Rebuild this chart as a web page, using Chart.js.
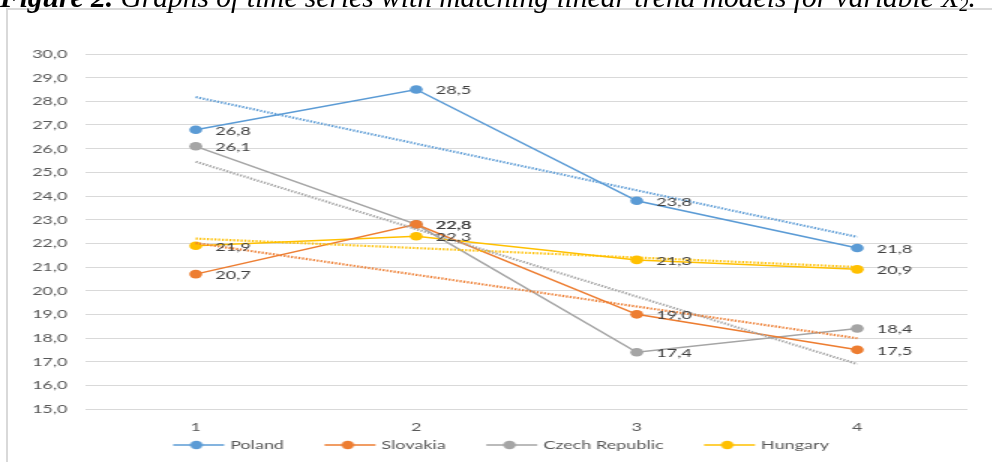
<!DOCTYPE html>
<html>
<head>
<meta charset="utf-8">
<script src="https://cdn.jsdelivr.net/npm/chart.js@4.4.0/dist/chart.umd.min.js"></script>
<style>
  html, body { margin: 0; padding: 0; background: #fff; overflow: hidden; width: 992px; height: 462px; }
  #frame { position: absolute; left: 6px; top: 8px; width: 1100px; height: 600px; border: 2px solid #d9d9d9; }
  #chart { position: absolute; left: 0; top: 0; }
  #title { position: absolute; left: 0; top: -17px; font-family: "Liberation Serif", serif; font-size: 29.5px; line-height: 29.5px;
           font-style: italic; white-space: nowrap; color: #000; }
  #title sub { font-size: 0.62em; vertical-align: -0.2em; line-height: 0; }
</style>
</head>
<body>
<div id="frame"></div>
<canvas id="chart" width="662" height="470" style="width:993px;height:470px"></canvas>
<div id="title"><b>Figure 2.</b> Graphs of time series with matching linear trend models for variable X<sub>2</sub>.</div>
<script>
const periods = ['1', '2', '3', '4'];
const seriesNames = ['Poland', 'Slovakia', 'Czech Republic', 'Hungary'];
const seriesColors = ['#5B9BD5', '#ED7D31', '#A5A5A5', '#FFC000'];

const poland   = [26.8, 28.5, 23.8, 21.8];
const slovakia = [20.7, 22.8, 19.0, 17.5];
const czech    = [26.1, 22.8, 17.4, 18.4];
const hungary  = [21.9, 22.3, 21.3, 20.9];

// dotted linear trend lines
const polandTrend   = [28.18, 26.21, 24.24, 22.27];
const slovakiaTrend = [22.01, 20.67, 19.33, 17.99];
const czechTrend    = [25.45, 22.60, 19.75, 16.90];
const hungaryTrend  = [22.20, 21.80, 21.40, 21.00];

const yTicks = { min: 15, max: 30, step: 1 };

const seriesValues = [poland, slovakia, czech, hungary];
const trendValues = [polandTrend, slovakiaTrend, czechTrend, hungaryTrend];

const fmt = v => v.toFixed(1).replace('.', ',');

// legend icon: short line with a dot in the middle, like Excel
// (a bit wider than the box so the line runs up to the text)
function legendIcon(color) {
  const c = document.createElement('canvas');
  c.width = 61; c.height = 10;
  const g = c.getContext('2d');
  g.strokeStyle = color; g.lineWidth = 1.5;
  g.beginPath(); g.moveTo(26, 5); g.lineTo(60, 5); g.stroke();
  g.fillStyle = color;
  g.beginPath(); g.arc(41.5, 5, 4.2, 0, Math.PI * 2); g.fill();
  return c;
}
const icons = seriesColors.map(legendIcon);

const datasets = [];
seriesValues.forEach((vals, i) => {
  datasets.push({
    label: seriesNames[i],
    data: vals,
    borderColor: seriesColors[i],
    backgroundColor: seriesColors[i],
    borderWidth: 1.5,
    pointRadius: 4.3,
    pointBorderWidth: 0,
    tension: 0,
    order: 2
  });
});
trendValues.forEach((vals, i) => {
  datasets.push({
    label: seriesNames[i] + ' trend',
    data: vals,
    borderColor: seriesColors[i],
    borderWidth: 2.2,
    borderDash: [1.3, 1.2],
    borderCapStyle: 'butt',
    pointRadius: 0,
    tension: 0,
    order: 1
  });
});

const valueLabels = {
  id: 'valueLabels',
  afterDatasetsDraw(chart) {
    const ctx = chart.ctx;
    ctx.save();
    ctx.font = '12px Lato';
    ctx.fillStyle = '#404040';
    ctx.textBaseline = 'middle';
    ctx.textAlign = 'left';
    for (let d = 0; d < seriesNames.length; d++) {
      chart.getDatasetMeta(d).data.forEach((pt, i) => {
        ctx.fillText(fmt(seriesValues[d][i]), pt.x + 13, pt.y + 1);
      });
    }
    ctx.restore();
  }
};

new Chart(document.getElementById('chart'), {
  type: 'line',
  data: { labels: periods, datasets },
  plugins: [valueLabels],
  options: {
    responsive: false,
    animation: false,
    devicePixelRatio: 1,
    layout: { padding: { top: 54, right: 17, bottom: 9, left: 0 } },
    scales: {
      x: {
        offset: true,
        grid: { display: false, drawTicks: false },
        border: { display: false },
        ticks: { color: '#595959', font: { family: 'Lato', size: 12 }, padding: 11 },
        afterFit: s => { s.height = 26; }
      },
      y: {
        min: yTicks.min,
        max: yTicks.max,
        grid: { color: '#d9d9d9', lineWidth: 1, drawTicks: false },
        border: { display: false },
        ticks: {
          stepSize: yTicks.step,
          color: '#595959',
          font: { family: 'Lato', size: 12 },
          padding: 12,
          callback: v => fmt(v)
        },
        afterFit: s => { s.width = 57; }
      }
    },
    plugins: {
      tooltip: { enabled: false },
      legend: {
        position: 'bottom',
        labels: {
          usePointStyle: true,
          pointStyleWidth: 55,
          padding: 4,
          color: '#595959',
          font: { family: 'Lato', size: 12 },
          filter: item => item.datasetIndex < seriesNames.length,
          generateLabels: chart => Chart.defaults.plugins.legend.labels.generateLabels(chart)
            .map(l => Object.assign(l, { pointStyle: icons[l.datasetIndex] || l.pointStyle }))
        }
      }
    }
  }
});
</script>
</body>
</html>
